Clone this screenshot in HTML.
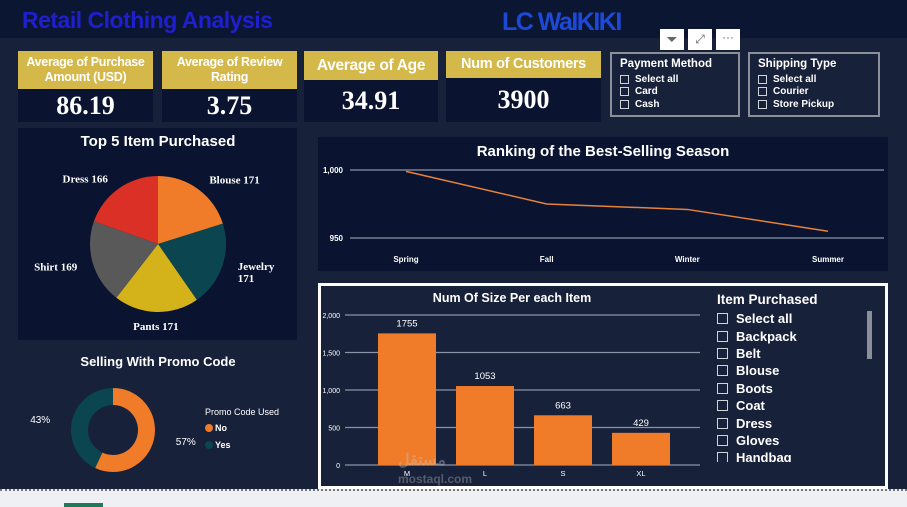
<!DOCTYPE html>
<html><head><meta charset="utf-8">
<style>
*{margin:0;padding:0;box-sizing:border-box}
body{width:907px;height:507px;overflow:hidden;background:#18213a;font-family:"Liberation Sans",sans-serif;position:relative;color:#fff}
.abs{position:absolute}
.hdr{background:#d4b84a;color:#fff;font-weight:bold;text-align:center;font-size:12.5px;line-height:15px;display:flex;align-items:center;justify-content:center;letter-spacing:-0.3px}
.val{background:#0a1330;color:#fff;font-family:"Liberation Serif",serif;font-weight:bold;font-size:26px;text-align:center;display:flex;align-items:center;justify-content:center}
.slc{border:2px solid #8a8f9a;font-size:10px;font-weight:bold;padding:4px 8px}
.slc .t{font-size:11.5px;margin-bottom:3px}
.cb{display:flex;align-items:center;gap:6px;height:12.5px}
.cb i{display:inline-block;width:9px;height:9px;border:1px solid #cfd3da}
.il .cb{height:17.4px;font-size:13px;gap:8px;font-weight:bold}
.il .cb i{width:11px;height:11px}
</style></head><body>
<div class="abs" style="left:0;top:0;width:907px;height:38px;background:#0b1633"></div>
<div class="abs" style="left:22px;top:7px;font-size:23px;font-weight:bold;color:#1f1fd0;letter-spacing:-0.5px">Retail Clothing Analysis</div>
<div class="abs" style="left:502px;top:8px;font-size:25px;font-weight:bold;color:#1d49d8;letter-spacing:-1.5px">LC WaIKIKI</div>

<div class="abs hdr" style="left:18px;top:51px;width:135px;height:38px">Average of Purchase Amount (USD)</div>
<div class="abs val" style="left:18px;top:89px;width:135px;height:33px">86.19</div>
<div class="abs hdr" style="left:162px;top:51px;width:135px;height:38px">Average of Review Rating</div>
<div class="abs val" style="left:162px;top:89px;width:135px;height:33px">3.75</div>
<div class="abs hdr" style="left:304px;top:51px;width:134px;height:29px;font-size:15.5px">Average of Age</div>
<div class="abs val" style="left:304px;top:80px;width:134px;height:42px">34.91</div>
<div class="abs hdr" style="left:446px;top:51px;width:155px;height:27px;font-size:14.5px">Num of Customers</div>
<div class="abs val" style="left:446px;top:78px;width:155px;height:44px">3900</div>

<div class="abs" style="left:660px;top:29px;width:80px;height:21px">
<div class="abs" style="left:0;top:0;width:24px;height:21px;background:#fff;color:#666;font-size:14px;text-align:center;line-height:21px">⏷</div>
<div class="abs" style="left:28px;top:0;width:24px;height:21px;background:#fff;color:#666;font-size:12px;text-align:center;line-height:21px">⤢</div>
<div class="abs" style="left:56px;top:0;width:24px;height:21px;background:#fff;color:#666;font-size:12px;text-align:center;line-height:16px">···</div>
</div>
<div class="abs slc" style="left:610px;top:52px;width:130px;height:65px">
<div class="t">Payment Method</div>
<div class="cb"><i></i>Select all</div>
<div class="cb"><i></i>Card</div>
<div class="cb"><i></i>Cash</div>
</div>
<div class="abs slc" style="left:748px;top:52px;width:132px;height:65px">
<div class="t">Shipping Type</div>
<div class="cb"><i></i>Select all</div>
<div class="cb"><i></i>Courier</div>
<div class="cb"><i></i>Store Pickup</div>
</div>

<div class="abs" style="left:18px;top:128px;width:279px;height:212px;background:#0a1430"></div>
<div class="abs" style="left:318px;top:137px;width:570px;height:134px;background:#0a1430"></div>
<div class="abs" style="left:318px;top:283px;width:570px;height:206px;border:3px solid #fff;background:#18213a"></div>

<svg class="abs" style="left:0;top:0" width="907" height="507" id="chart">
<text x="158" y="146" text-anchor="middle" font-size="15" font-weight="bold" fill="#fff">Top 5 Item Purchased</text>
<text x="158" y="366" text-anchor="middle" font-size="13" font-weight="bold" fill="#fff">Selling With Promo Code</text>
<text x="603" y="156" text-anchor="middle" font-size="15" font-weight="bold" fill="#fff">Ranking of the Best-Selling Season</text>
<text x="512" y="302" text-anchor="middle" font-size="12.5" font-weight="bold" fill="#fff">Num Of Size Per each Item</text>
<text x="205" y="415" font-size="9" fill="#fff">Promo Code Used</text>
<circle cx="209" cy="428" r="4" fill="#f07b28"/>
<text x="215" y="431" font-size="9" font-weight="bold" fill="#fff">No</text>
<circle cx="209" cy="445" r="4" fill="#0b4650"/>
<text x="215" y="448" font-size="9" font-weight="bold" fill="#fff">Yes</text>
<g id="g"></g>
</svg>

<div class="abs il" style="left:717px;top:292px;width:150px;height:170px;overflow:hidden">
<div style="font-size:13.5px;font-weight:bold;margin-bottom:3px">Item Purchased</div>
<div class="cb"><i></i>Select all</div>
<div class="cb"><i></i>Backpack</div>
<div class="cb"><i></i>Belt</div>
<div class="cb"><i></i>Blouse</div>
<div class="cb"><i></i>Boots</div>
<div class="cb"><i></i>Coat</div>
<div class="cb"><i></i>Dress</div>
<div class="cb"><i></i>Gloves</div>
<div class="cb"><i></i>Handbag</div>
</div>
<div class="abs" style="left:867px;top:311px;width:5px;height:48px;background:#8a8f9a"></div>

<div class="abs" style="left:0;top:489px;width:907px;height:18px;background:#eef0f4;border-top:2px dotted #777"></div>
<div class="abs" style="left:64px;top:503px;width:39px;height:4px;background:#1f7a5c"></div>
<div class="abs" style="left:398px;top:450px;font-size:16px;color:rgba(200,200,200,0.35);font-weight:bold">مستقل<br><span style="font-size:12px">mostaql.com</span></div>

<script>
const pieLabels=["Blouse","Jewelry","Pants","Shirt","Dress"];
const pieValues=[171,171,171,169,166];
const promoLabels=["No","Yes"];
const promoValues=[57,43];
const seasons=["Spring","Fall","Winter","Summer"];
const seasonValues=[999,975,971,955];
const seasonTicks=[950,1000];
const sizes=["M","L","S","XL"];
const sizeValues=[1755,1053,663,429];
const sizeTicks=[0,500,1000,1500,2000];

const NS="http://www.w3.org/2000/svg";
const g=document.getElementById('g');
function mk(t,a,txt){const e=document.createElementNS(NS,t);for(const k in a)e.setAttribute(k,a[k]);if(txt!==undefined)e.textContent=txt;g.appendChild(e);return e;}

// Pie
const pieColors=["#f07b28","#0b4650","#d4b21a","#595959","#da3025"];
const pcx=158,pcy=244,pr=68;
let tot=pieValues.reduce((a,b)=>a+b,0),ang=0;
pieValues.forEach((v,i)=>{
  const a0=ang,a1=ang+v/tot*2*Math.PI;ang=a1;
  const x0=pcx+pr*Math.sin(a0),y0=pcy-pr*Math.cos(a0),x1=pcx+pr*Math.sin(a1),y1=pcy-pr*Math.cos(a1);
  const p=mk('path',{d:`M${pcx},${pcy}L${x0},${y0}A${pr},${pr} 0 ${a1-a0>Math.PI?1:0} 1 ${x1},${y1}Z`,fill:pieColors[i]});
  
  
  const m=(a0+a1)/2,lx=pcx+(pr+12)*Math.sin(m),ly=pcy-(pr+12)*Math.cos(m);
  const right=Math.sin(m)>0.05,left=Math.sin(m)<-0.05;
  const anchor=right?'start':left?'end':'middle';
  const tx=lx+(right?4:left?-4:0),ty=ly+4+(!right&&!left?2:0)-(right&&ly>pcy?4:0);
  const t=mk('text',{x:tx,y:ty,'text-anchor':anchor,'font-size':11,'font-weight':'bold','font-family':'Liberation Serif, serif',fill:'#fff'});
  
  
  if(right && tx>230 && ly>pcy){
    const s1=document.createElementNS(NS,'tspan');s1.setAttribute('x',tx);s1.textContent=pieLabels[i];t.appendChild(s1);
    const s2=document.createElementNS(NS,'tspan');s2.setAttribute('x',tx);s2.setAttribute('dy',12);s2.textContent=v;t.appendChild(s2);
  } else t.textContent=pieLabels[i]+' '+v;
});

// Donut
const dcx=113,dcy=430,ro=42,ri=25,dColors=["#f07b28","#0b4650"];
let dt=promoValues.reduce((a,b)=>a+b,0),da=0;
promoValues.forEach((v,i)=>{
  const a0=da,a1=da+v/dt*2*Math.PI;da=a1;
  const f=(r,a)=>[dcx+r*Math.sin(a),dcy-r*Math.cos(a)];
  const [x0,y0]=f(ro,a0),[x1,y1]=f(ro,a1),[x2,y2]=f(ri,a1),[x3,y3]=f(ri,a0),lg=a1-a0>Math.PI?1:0;
  const p=mk('path',{d:`M${x0},${y0}A${ro},${ro} 0 ${lg} 1 ${x1},${y1}L${x2},${y2}A${ri},${ri} 0 ${lg} 0 ${x3},${y3}Z`,fill:dColors[i]});
  
  
  const m=(a0+a1)/2,right=Math.sin(m)>0;
  const [lx,ly]=f(ro+8,m);
  const t=mk('text',{x:right?lx+14:lx-14,y:ly+4,'text-anchor':right?'start':'end','font-size':10,fill:'#fff'},v+'%');
  
  
});

// Line chart
const lx0=350,lx1=884,ly0=238,ly1=170;
const ySc=v=>ly0+(v-seasonTicks[0])/(seasonTicks[1]-seasonTicks[0])*(ly1-ly0);
const xSc=i=>406+i*(828-406)/(seasons.length-1);
seasonTicks.forEach(t=>{
  const l=mk('line',{x1:lx0,x2:lx1,y1:ySc(t),y2:ySc(t),stroke:'#8a93a6','stroke-width':1.2});
  
  
  const tx=mk('text',{x:343,y:ySc(t)+3,'text-anchor':'end','font-size':8,'font-weight':'bold',fill:'#fff'},t.toLocaleString('en-US'));
  
  
});
const pl=mk('polyline',{points:seasonValues.map((v,i)=>xSc(i)+','+ySc(v)).join(' '),fill:'none',stroke:'#e8823a','stroke-width':1.5});


seasons.forEach((s,i)=>{
  const t=mk('text',{x:xSc(i),y:262,'text-anchor':'middle','font-size':8,'font-weight':'bold',fill:'#fff'},s);
  
  
});

// Bar chart
const by0=465,by1=315,bx0=345,bx1=700;
const bY=v=>by0-(v/sizeTicks[sizeTicks.length-1])*(by0-by1);
const bX=i=>407+i*78;
sizeTicks.forEach(t=>{
  const l=mk('line',{x1:bx0,x2:bx1,y1:bY(t),y2:bY(t),stroke:'#8a93a6','stroke-width':1.2});
  
  
  const tx=mk('text',{x:340,y:bY(t)+3,'text-anchor':'end','font-size':7,fill:'#fff'},t.toLocaleString('en-US'));
  
  
});
sizeValues.forEach((v,i)=>{
  const r=mk('rect',{x:bX(i)-29,y:bY(v),width:58,height:by0-bY(v),fill:'#f07b28'});
  
  
  const t=mk('text',{x:bX(i),y:bY(v)-7,'text-anchor':'middle','font-size':9.5,fill:'#fff'},v);
  
  
  const c=mk('text',{x:bX(i),y:476,'text-anchor':'middle','font-size':7.5,fill:'#fff'},sizes[i]);
  
  
});
</script>
</body></html>
